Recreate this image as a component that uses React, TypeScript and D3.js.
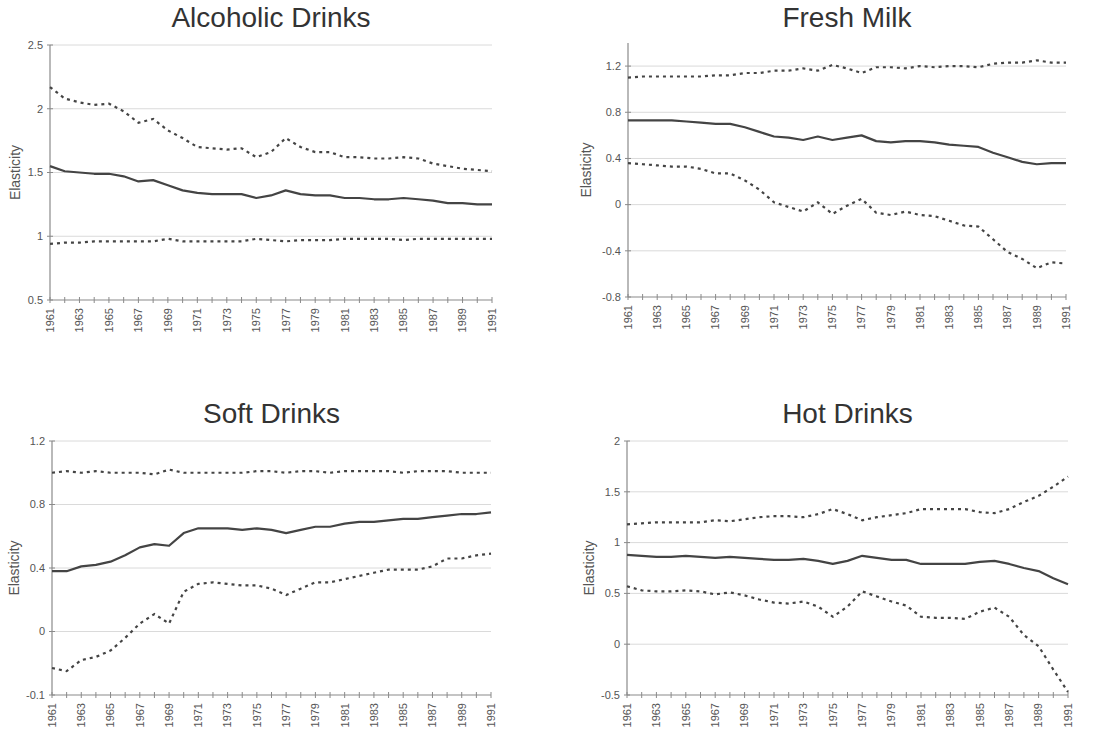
import React from "react";
import * as d3 from "d3";

// Years on the horizontal axis (annual observations)
const years = [
  1961, 1962, 1963, 1964, 1965, 1966, 1967, 1968, 1969, 1970,
  1971, 1972, 1973, 1974, 1975, 1976, 1977, 1978, 1979, 1980,
  1981, 1982, 1983, 1984, 1985, 1986, 1987, 1988, 1989, 1990, 1991,
];
const yearLabels = [
  1961, 1963, 1965, 1967, 1969, 1971, 1973, 1975,
  1977, 1979, 1981, 1983, 1985, 1987, 1989, 1991,
];

// Alcoholic drinks: upper bound, estimate, lower bound
const alcoholicUpper = [
  2.17, 2.08, 2.05, 2.03, 2.04, 1.98, 1.89, 1.92, 1.83, 1.77,
  1.70, 1.69, 1.68, 1.69, 1.62, 1.66, 1.77, 1.70, 1.66, 1.66,
  1.62, 1.62, 1.61, 1.61, 1.62, 1.61, 1.57, 1.55, 1.53, 1.52, 1.51,
];
const alcoholicEst = [
  1.55, 1.51, 1.50, 1.49, 1.49, 1.47, 1.43, 1.44, 1.40, 1.36,
  1.34, 1.33, 1.33, 1.33, 1.30, 1.32, 1.36, 1.33, 1.32, 1.32,
  1.30, 1.30, 1.29, 1.29, 1.30, 1.29, 1.28, 1.26, 1.26, 1.25, 1.25,
];
const alcoholicLower = [
  0.94, 0.95, 0.95, 0.96, 0.96, 0.96, 0.96, 0.96, 0.98, 0.96,
  0.96, 0.96, 0.96, 0.96, 0.98, 0.97, 0.96, 0.97, 0.97, 0.97,
  0.98, 0.98, 0.98, 0.98, 0.97, 0.98, 0.98, 0.98, 0.98, 0.98, 0.98,
];
const alcoholicTicks = [0.5, 1, 1.5, 2, 2.5];
const alcoholicTickLabels = ["0.5", "1", "1.5", "2", "2.5"];

// Fresh milk
const milkUpper = [
  1.10, 1.11, 1.11, 1.11, 1.11, 1.11, 1.12, 1.12, 1.14, 1.14,
  1.16, 1.16, 1.18, 1.16, 1.21, 1.18, 1.14, 1.19, 1.19, 1.18,
  1.20, 1.19, 1.20, 1.20, 1.19, 1.22, 1.23, 1.23, 1.25, 1.23, 1.23,
];
const milkEst = [
  0.73, 0.73, 0.73, 0.73, 0.72, 0.71, 0.70, 0.70, 0.67, 0.63,
  0.59, 0.58, 0.56, 0.59, 0.56, 0.58, 0.60, 0.55, 0.54, 0.55,
  0.55, 0.54, 0.52, 0.51, 0.50, 0.45, 0.41, 0.37, 0.35, 0.36, 0.36,
];
const milkLower = [
  0.36, 0.35, 0.34, 0.33, 0.33, 0.31, 0.27, 0.27, 0.21, 0.13,
  0.02, -0.02, -0.06, 0.02, -0.08, -0.01, 0.05, -0.07, -0.09, -0.06,
  -0.09, -0.10, -0.14, -0.18, -0.19, -0.30, -0.41, -0.47, -0.55, -0.50, -0.51,
];
const milkTicks = [-0.8, -0.4, 0, 0.4, 0.8, 1.2];
const milkTickLabels = ["-0.8", "-0.4", "0", "0.4", "0.8", "1.2"];

// Soft drinks
const softUpper = [
  1.00, 1.01, 1.00, 1.01, 1.00, 1.00, 1.00, 0.99, 1.02, 1.00,
  1.00, 1.00, 1.00, 1.00, 1.01, 1.01, 1.00, 1.01, 1.01, 1.00,
  1.01, 1.01, 1.01, 1.01, 1.00, 1.01, 1.01, 1.01, 1.00, 1.00, 1.00,
];
const softEst = [
  0.38, 0.38, 0.41, 0.42, 0.44, 0.48, 0.53, 0.55, 0.54, 0.62,
  0.65, 0.65, 0.65, 0.64, 0.65, 0.64, 0.62, 0.64, 0.66, 0.66,
  0.68, 0.69, 0.69, 0.70, 0.71, 0.71, 0.72, 0.73, 0.74, 0.74, 0.75,
];
const softLower = [
  -0.23, -0.25, -0.18, -0.16, -0.12, -0.04, 0.05, 0.11, 0.05, 0.25,
  0.30, 0.31, 0.30, 0.29, 0.29, 0.27, 0.23, 0.27, 0.31, 0.31,
  0.33, 0.35, 0.37, 0.39, 0.39, 0.39, 0.41, 0.46, 0.46, 0.48, 0.49,
];
const softTicks = [-0.4, 0, 0.4, 0.8, 1.2];
const softTickLabels = ["-0.1", "0", "0.4", "0.8", "1.2"];

// Hot drinks
const hotUpper = [
  1.18, 1.19, 1.20, 1.20, 1.20, 1.20, 1.22, 1.21, 1.23, 1.25,
  1.26, 1.26, 1.25, 1.28, 1.33, 1.28, 1.22, 1.25, 1.27, 1.29,
  1.33, 1.33, 1.33, 1.33, 1.30, 1.29, 1.33, 1.40, 1.46, 1.55, 1.65,
];
const hotEst = [
  0.88, 0.87, 0.86, 0.86, 0.87, 0.86, 0.85, 0.86, 0.85, 0.84,
  0.83, 0.83, 0.84, 0.82, 0.79, 0.82, 0.87, 0.85, 0.83, 0.83,
  0.79, 0.79, 0.79, 0.79, 0.81, 0.82, 0.79, 0.75, 0.72, 0.65, 0.59,
];
const hotLower = [
  0.57, 0.53, 0.52, 0.52, 0.53, 0.52, 0.49, 0.51, 0.48, 0.44,
  0.41, 0.40, 0.42, 0.37, 0.27, 0.37, 0.52, 0.47, 0.42, 0.38,
  0.27, 0.26, 0.26, 0.25, 0.32, 0.36, 0.27, 0.09, -0.02, -0.25, -0.47,
];
const hotTicks = [-0.5, 0, 0.5, 1, 1.5, 2];
const hotTickLabels = ["-0.5", "0", "0.5", "1", "1.5", "2"];

type Box = { left: number; right: number; top: number; bottom: number };
type PanelSpec = {
  title: string;
  upper: number[];
  est: number[];
  lower: number[];
  domain: [number, number];
  ticks: number[];
  tickLabels: string[];
  box: Box;
  titleY: number;
  yLabelX: number;
};

const panels: PanelSpec[] = [
  {
    title: "Alcoholic Drinks",
    upper: alcoholicUpper, est: alcoholicEst, lower: alcoholicLower,
    domain: [0.5, 2.5], ticks: alcoholicTicks, tickLabels: alcoholicTickLabels,
    box: { left: 50, right: 492, top: 45, bottom: 300 },
    titleY: 27, yLabelX: 15,
  },
  {
    title: "Fresh Milk",
    upper: milkUpper, est: milkEst, lower: milkLower,
    domain: [-0.8, 1.4], ticks: milkTicks, tickLabels: milkTickLabels,
    box: { left: 628, right: 1066, top: 43, bottom: 297 },
    titleY: 27, yLabelX: 586,
  },
  {
    title: "Soft Drinks",
    upper: softUpper, est: softEst, lower: softLower,
    domain: [-0.4, 1.2], ticks: softTicks, tickLabels: softTickLabels,
    box: { left: 52, right: 491, top: 441, bottom: 695 },
    titleY: 423, yLabelX: 14,
  },
  {
    title: "Hot Drinks",
    upper: hotUpper, est: hotEst, lower: hotLower,
    domain: [-0.5, 2], ticks: hotTicks, tickLabels: hotTickLabels,
    box: { left: 627, right: 1068, top: 441, bottom: 695 },
    titleY: 423, yLabelX: 589,
  },
];

const INK = "#444";
const AXIS = "#8a8a8a";
const GRID = "#dadada";
const LABEL = "#555";
const FONT = "'Liberation Sans', Arial, sans-serif";

function Panel({ p }: { p: PanelSpec }) {
  const { box } = p;
  const x = d3.scaleLinear().domain([years[0], years[years.length - 1]]).range([box.left, box.right]);
  const y = d3.scaleLinear().domain(p.domain).range([box.bottom, box.top]);
  const line = d3
    .line<number>()
    .x((_, i) => x(years[i]))
    .y((v) => y(v));
  const midY = (box.top + box.bottom) / 2;
  const cx = (box.left + box.right) / 2;

  return (
    <g>
      <text
        x={cx}
        y={p.titleY}
        textAnchor="middle"
        fontFamily={FONT}
        fontSize={28}
        fill="#333"
      >
        {p.title}
      </text>

      {/* horizontal grid */}
      {p.ticks
        .filter((t) => t !== p.domain[0])
        .map((t) => (
          <line key={`g${t}`} x1={box.left} x2={box.right} y1={y(t)} y2={y(t)} stroke={GRID} strokeWidth={1} />
        ))}

      {/* y axis */}
      <line x1={box.left} x2={box.left} y1={box.top} y2={box.bottom} stroke={AXIS} strokeWidth={1.2} />
      {p.ticks.map((t, i) => (
        <g key={`yt${t}`}>
          <line x1={box.left - 3} x2={box.left + 3} y1={y(t)} y2={y(t)} stroke={AXIS} strokeWidth={1} />
          <text
            x={box.left - 7}
            y={y(t)}
            dy="0.35em"
            textAnchor="end"
            fontFamily={FONT}
            fontSize={11}
            fill={LABEL}
          >
            {p.tickLabels[i]}
          </text>
        </g>
      ))}

      {/* x axis */}
      <line x1={box.left} x2={box.right} y1={box.bottom} y2={box.bottom} stroke={AXIS} strokeWidth={1.2} />
      {years.map((yr) => (
        <line key={`xt${yr}`} x1={x(yr)} x2={x(yr)} y1={box.bottom - 3} y2={box.bottom + 3} stroke={AXIS} strokeWidth={1} />
      ))}
      {yearLabels.map((yr) => (
        <text
          key={`xl${yr}`}
          transform={`translate(${x(yr)},${box.bottom + 8}) rotate(-90)`}
          dy="0.35em"
          textAnchor="end"
          fontFamily={FONT}
          fontSize={11}
          fill={LABEL}
        >
          {yr}
        </text>
      ))}

      <text
        transform={`translate(${p.yLabelX},${midY}) rotate(-90)`}
        dy="0.35em"
        textAnchor="middle"
        fontFamily={FONT}
        fontSize={14}
        fill={LABEL}
      >
        Elasticity
      </text>

      {/* confidence bounds and estimate */}
      <path d={line(p.upper) ?? ""} fill="none" stroke={INK} strokeWidth={2.2} strokeDasharray="3 4" />
      <path d={line(p.lower) ?? ""} fill="none" stroke={INK} strokeWidth={2.2} strokeDasharray="3 4" />
      <path d={line(p.est) ?? ""} fill="none" stroke={INK} strokeWidth={2.2} strokeLinejoin="round" />
    </g>
  );
}

export default function App() {
  return (
    <svg
      width={1114}
      height={730}
      style={{ position: "absolute", left: 0, top: 0, display: "block", background: "#fff" }}
    >
      <rect width={1114} height={730} fill="#fff" />
      {panels.map((p) => (
        <Panel key={p.title} p={p} />
      ))}
    </svg>
  );
}
